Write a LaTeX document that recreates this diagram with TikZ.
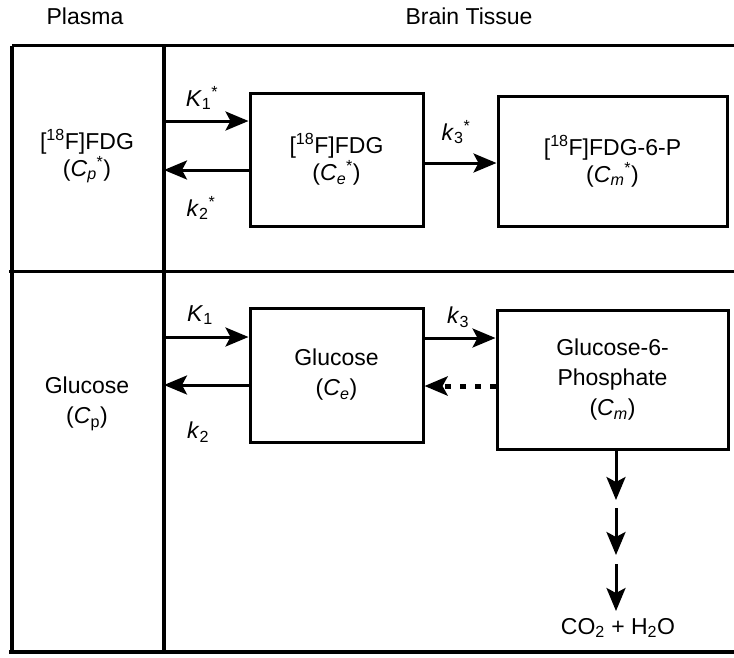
\documentclass[tikz,border=0pt]{standalone}
\usepackage{fontspec}
\setmainfont{Liberation Sans}
\usetikzlibrary{arrows.meta}
\newcommand{\myrate}[3]{\textit{#1}\textsubscript{#2}\textsuperscript{#3}}
\begin{document}
\begin{tikzpicture}[x=1pt,y=-1pt,
  frame/.style={line width=3.5pt},
  txt/.style={font=\fontsize{23}{27}\selectfont,align=center,inner sep=0pt},
  txtb/.style={font=\fontsize{23}{30}\selectfont,align=center,inner sep=0pt},
  compbox/.style={draw,line width=3pt},
  flow/.style={line width=3pt,-{Stealth[length=23pt,width=19pt,inset=5pt]}},
  dotflow/.style={line width=5pt,dash pattern=on 6pt off 9pt,-{Stealth[length=23pt,width=19pt,inset=5pt]}},
]
\useasboundingbox (0,0) rectangle (734,657);
% frame
\draw[frame] (12,45.5) -- (734,45.5);
\draw[frame] (12,45.5) -- (12,652);
\draw[frame] (9,652) -- (734,652);
\draw[frame] (9,271.5) -- (734,271.5);
\draw[frame] (164,45.5) -- (164,652);
% titles
\node[txt] (tplasma) at (85,16) {Plasma};
\node[txt] (tbrain) at (469,16) {Brain Tissue};
% plasma compartments
\node[txt] (pl1) at (87,156) {[\textsuperscript{18}F]FDG\\(\textit{C}\textsubscript{\textit{p}}\textsuperscript{*})};
\node[txtb] (pl2) at (87,404) {Glucose\\(\textit{C}\textsubscript{p})};
% tissue boxes
\node[compbox,txt,minimum width=173pt,minimum height=133pt] (ce1) at (336.5,159.5)
  {[\textsuperscript{18}F]FDG\\(\textit{C}\textsubscript{\textit{e}}\textsuperscript{*})};
\node[compbox,txt,minimum width=229pt,minimum height=130pt] (cm1) at (612.5,161)
  {[\textsuperscript{18}F]FDG-6-P\\(\textit{C}\textsubscript{\textit{m}}\textsuperscript{*})};
\node[compbox,txtb,minimum width=173pt,minimum height=134pt] (ce2) at (336.5,375)
  {Glucose\\(\textit{C}\textsubscript{\textit{e}})};
\node[compbox,txtb,minimum width=231pt,minimum height=139pt] (cm2) at (612.5,379.5)
  {Glucose-6-\\Phosphate\\(\textit{C}\textsubscript{\textit{m}})};
% helper coordinates
\coordinate (v1) at (164,121);
\coordinate (v2) at (164,170);
\coordinate (y3) at (0,163);
\coordinate (v4) at (164,337);
\coordinate (v5) at (164,385);
\coordinate (y6) at (0,338);
\coordinate (y7) at (0,386);
\coordinate (a1) at (616,500);
\coordinate (a2) at (616,508);
\coordinate (a3) at (616,555);
\coordinate (a4) at (616,564);
\coordinate (a5) at (616,611);
% arrows top
\draw[flow] (v1) -- (v1 -| ce1.west);
\draw[flow] (v2 -| ce1.west) -- (v2);
\draw[flow] (ce1.east |- y3) -- (cm1.west |- y3);
% arrows bottom
\draw[flow] (v4) -- (v4 -| ce2.west);
\draw[flow] (v5 -| ce2.west) -- (v5);
\draw[flow] (ce2.east |- y6) -- (cm2.west |- y6);
\draw[dotflow] (cm2.west |- y7) -- (ce2.east |- y7);
% down arrows
\draw[flow] (cm2.south -| a1) -- (a1);
\draw[flow] (a2) -- (a3);
\draw[flow] (a4) -- (a5);
\node[txt] (co2) at (618,628) {CO\textsubscript{2} + H\textsubscript{2}O};
% labels
\node[txt] (lK1s) at (202,98) {\myrate{K}{1}{*}};
\node[txt] (lk2s) at (201,208) {\myrate{k}{2}{*}};
\node[txt] (lk3s) at (456,132) {\myrate{k}{3}{*}};
\node[txt] (lK1) at (200,315) {\textit{K}\textsubscript{1}};
\node[txt] (lk2) at (198,432) {\textit{k}\textsubscript{2}};
\node[txt] (lk3) at (458,317) {\textit{k}\textsubscript{3}};
\end{tikzpicture}
\end{document}
